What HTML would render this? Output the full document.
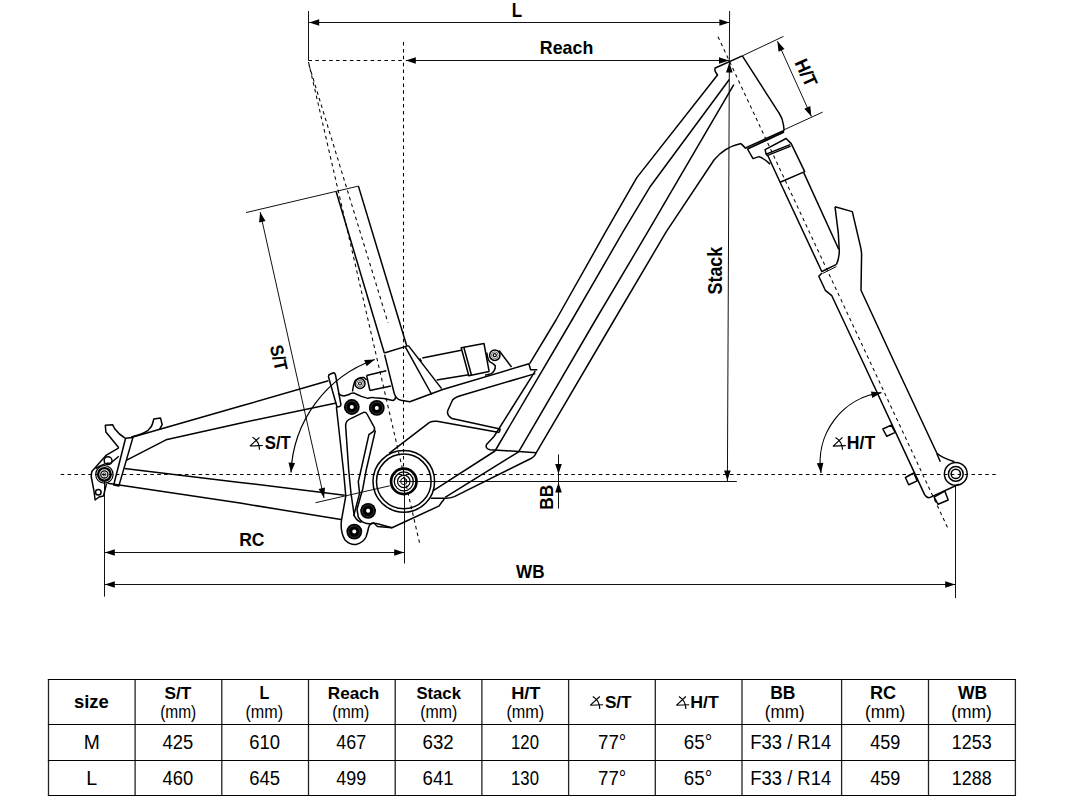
<!DOCTYPE html>
<html><head><meta charset="utf-8"><style>
html,body{margin:0;padding:0;background:#fff;width:1066px;height:798px;overflow:hidden}
svg{position:absolute;left:0;top:0}
text{font-family:"Liberation Sans",sans-serif;fill:#000}
.d{stroke:#111;stroke-width:1;fill:none}
.ds{stroke:#000;stroke-width:1.05;fill:none;stroke-dasharray:3.5 3.4}
.f{stroke:#000;stroke-width:1.5;fill:none;stroke-linejoin:round}
.t{stroke:#000;stroke-width:1.2;fill:none}
.d2{stroke:#000;stroke-width:0.8;fill:none}
</style></head><body>
<svg width="1066" height="798" viewBox="0 0 1066 798">
<line x1="308.5" y1="11" x2="308.5" y2="60.5" class="d"/>
<line x1="729.6" y1="11" x2="727.4" y2="481.5" class="d"/>
<line x1="309.2" y1="22.5" x2="729.4" y2="22.5" class="d"/><path d="M309.2,22.5 L319.2,19.2 L319.2,25.8 Z" fill="#000" stroke="none"/><path d="M729.4,22.5 L719.4,25.8 L719.4,19.2 Z" fill="#000" stroke="none"/>
<line x1="405.8" y1="60.5" x2="729" y2="60.5" class="d"/><path d="M405.8,60.5 L415.8,57.2 L415.8,63.8 Z" fill="#000" stroke="none"/><path d="M729.0,60.5 L719.0,63.8 L719.0,57.2 Z" fill="#000" stroke="none"/>
<line x1="308.5" y1="60.5" x2="403.5" y2="60.5" class="ds"/>
<text transform="translate(517.35,10.10) scale(0.865,1)" x="-6.41" y="6.80" font-size="19.71" font-weight="bold">L</text>
<text transform="translate(566.65,47.50) scale(0.983,1)" x="-27.26" y="6.52" font-size="18.11" font-weight="bold">Reach</text>
<path d="M729.4,62.6 L732.6,72.6 L726.0,72.6 Z" fill="#000" stroke="none"/>
<path d="M727.4,480.6 L724.1,470.6 L730.7,470.6 Z" fill="#000" stroke="none"/>
<text transform="translate(715.50,270.35) rotate(-90) scale(0.928,1)" x="-26.05" y="6.95" font-size="19.3" font-weight="bold">Stack</text>
<line x1="60.7" y1="474.5" x2="997" y2="474.5" class="ds"/>
<line x1="403.5" y1="42" x2="403.5" y2="478" class="ds"/>
<line x1="404.5" y1="481" x2="404.5" y2="563.5" class="d"/>
<line x1="104.5" y1="482" x2="104.5" y2="596.6" class="d"/>
<line x1="955.5" y1="485" x2="955.5" y2="598" class="d"/>
<line x1="104.8" y1="552.5" x2="404.2" y2="552.5" class="d"/><path d="M104.8,552.5 L114.8,549.2 L114.8,555.8 Z" fill="#000" stroke="none"/><path d="M404.2,552.5 L394.2,555.8 L394.2,549.2 Z" fill="#000" stroke="none"/>
<line x1="104.8" y1="584.5" x2="955.2" y2="584.5" class="d"/><path d="M104.8,584.5 L114.8,581.2 L114.8,587.8 Z" fill="#000" stroke="none"/><path d="M955.2,584.5 L945.2,587.8 L945.2,581.2 Z" fill="#000" stroke="none"/>
<text transform="translate(252.15,539.70) scale(0.943,1)" x="-13.76" y="6.41" font-size="18.59" font-weight="bold">RC</text>
<text transform="translate(529.95,571.45) scale(0.900,1)" x="-15.38" y="6.55" font-size="18.99" font-weight="bold">WB</text>
<line x1="404" y1="481.5" x2="736.8" y2="481.5" class="d"/>
<line x1="558.5" y1="454.4" x2="558.5" y2="508.6" class="d"/>
<path d="M558.5,473.9 L555.2,463.9 L561.8,463.9 Z" fill="#000" stroke="none"/>
<path d="M558.5,482.4 L561.8,492.4 L555.2,492.4 Z" fill="#000" stroke="none"/>
<text transform="translate(546.00,497.15) rotate(-90) scale(0.906,1)" x="-13.96" y="6.55" font-size="19" font-weight="bold">BB</text>
<line x1="783.6" y1="130" x2="822.7" y2="112.1" class="d"/>
<line x1="777.4" y1="41.2" x2="811.4" y2="116.5" class="d"/><path d="M777.4,41.2 L784.5,49.0 L778.5,51.7 Z" fill="#000" stroke="none"/><path d="M811.4,116.5 L804.3,108.7 L810.3,106.0 Z" fill="#000" stroke="none"/>
<text transform="translate(806.60,73.10) rotate(65.5) scale(0.946,1)" x="-15.70" y="6.77" font-size="18.8" font-weight="bold">H/T</text>
<line x1="246" y1="212.6" x2="358.4" y2="186.1" class="d"/>
<line x1="260.1" y1="212" x2="324" y2="498" class="d"/><path d="M260.1,212.0 L265.5,221.0 L259.1,222.5 Z" fill="#000" stroke="none"/><path d="M324.0,498.0 L318.6,489.0 L325.0,487.5 Z" fill="#000" stroke="none"/>
<line x1="315.5" y1="502.7" x2="389.8" y2="485.8" class="d"/>
<text transform="translate(279.20,357.80) rotate(77) scale(0.913,1)" x="-14.46" y="6.59" font-size="18.3" font-weight="bold">S/T</text>
<path d="M374.7,359.5 A125.36,125.36 0 0 0 291,472.6" stroke="#000" stroke-width="1.2" fill="none"/>
<path d="M374.7,359.5 L366.6,366.3 L364.2,360.1 Z" fill="#000" stroke="none"/>
<path d="M291.0,472.6 L288.5,462.4 L295.1,462.9 Z" fill="#000" stroke="none"/>
<text transform="translate(277.95,442.65) scale(0.948,1)" x="-13.98" y="6.37" font-size="17.7" font-weight="bold">S/T</text>
<path d="M249.9,446.2 L259.5,437.3 M249.9,446.0 L262.8,445.5 M252.5,437.3 Q259.4,441.3 259.5,449.7" stroke="#000" stroke-width="1.15" fill="none"/>
<path d="M881.4,392.7 A69.89,69.89 0 0 0 821,473" stroke="#000" stroke-width="1.2" fill="none"/>
<path d="M881.4,392.7 L872.2,397.9 L871.0,391.4 Z" fill="#000" stroke="none"/>
<path d="M821.0,473.0 L816.8,463.3 L823.4,462.8 Z" fill="#000" stroke="none"/>
<text transform="translate(861.50,442.75) scale(1.012,1)" x="-14.55" y="6.27" font-size="17.43" font-weight="bold">H/T</text>
<path d="M832.9,446.29999999999995 L842.5,437.4 M832.9,446.09999999999997 L845.8,445.59999999999997 M835.5,437.4 Q842.4,441.4 842.5,449.79999999999995" stroke="#000" stroke-width="1.15" fill="none"/>
<line x1="718" y1="36.7" x2="948" y2="528.5" class="ds"/>
<line x1="308.5" y1="62" x2="419.8" y2="544" class="ds"/>
<line x1="309" y1="65" x2="388" y2="322.9" class="ds"/>
<path d="M336.2,191.7 L384.3,353" class="f"/>
<path d="M358.4,186.1 L406.7,345.8" class="f"/>
<path d="M384.3,353 L408.4,345.6" class="f"/>
<path d="M384.6,354.6 L394.2,393.2 Q395.5,399 401,400.3 L409.8,401.7 L442.7,389.5 L528.9,363.8 L530.6,369.8 L537.3,369.8" class="f"/>
<path d="M405.4,347.1 L431.7,394.5" class="f"/>
<path d="M408.4,345.6 L441.6,388.6" class="f"/>
<path d="M422.3,357.9 L461.2,350.3" class="f"/>
<path d="M436.7,379.9 L468.8,374.8" class="f"/>
<path d="M419.5,358.5 L421.5,361.5" class="f"/>
<path d="M461.2,347.8 L484,343.5 L489.1,371.4 L468.8,375.7 Z" class="f"/>
<path d="M463.8,347.3 L471.5,375.2" class="f"/>
<circle cx="494.8" cy="355.2" r="5.2" stroke="#000" stroke-width="1.5" fill="none"/><circle cx="494.8" cy="355.2" r="3.4" stroke="#444" stroke-width="0.8" fill="none"/><circle cx="494.8" cy="355.2" r="2.1" fill="#000"/><circle cx="494.8" cy="355.2" r="0.9" fill="#fff"/>
<path d="M486.8,352.7 Q487.5,359 489.6,361.7 Q494,364 495.3,365.7 Q495.5,369 494.1,370.7 Q492.5,373 491.3,373.6 L485.1,375.3" class="f"/>
<path d="M499,350.5 L511.5,367" class="f"/>
<path d="M366.6,375.4 L386.3,370.8" class="f"/>
<path d="M369.9,390.5 L390.9,385.9" class="f"/>
<path d="M366.6,375.4 L369.9,390.5" class="f"/>
<circle cx="360" cy="383.5" r="5" stroke="#000" stroke-width="1.5" fill="none"/><circle cx="360" cy="383.5" r="3.3" stroke="#444" stroke-width="0.8" fill="none"/><circle cx="360" cy="383.5" r="2" fill="#000"/><circle cx="360" cy="383.5" r="0.9" fill="#fff"/>
<path d="M352.5,391.5 Q353.5,384 355,381 Q358,377 364,377.5 L366.6,380" class="f"/>
<path d="M338.3,393.2 Q340,395.5 344,396 L349,394.5 Q353,392 356,394 L361.3,396.4 L367.9,398.4 Q371,397 374.5,397.8 L383.7,398.4 L392.9,400.4 Q395.5,400 395.5,397" class="f"/>
<path d="M535.3,373.6 L462,395.2 Q455,397 452.6,400 L448,410 Q446,415 452,418.5 L500.1,429 L499.3,432.4" class="f"/>
<path d="M389.1,453.3 L429.5,422.3 Q432,421 437,421.3 L499.3,432.4" class="f"/>
<path d="M535.3,370.8 L494,436.5 L486.5,444.5 Q485,448.5 490,449.7 L536.3,452.7" class="f"/>
<path d="M714.7,68.3 L715.2,71.3 L717.5,75 L636.8,177.6 L605.5,232.2 L556,320 L529.7,363.6" class="f"/>
<path d="M729.3,79.5 L649.7,187.3 L622.8,232.2 L572,320 L495,451" class="f"/>
<path d="M733.8,84.6 L647.6,232.2 L595.5,320 L518.6,451.8" class="f"/>
<path d="M741,143.6 Q725,147 714,160 L666,232.2 L614.2,320 L536.3,452.7 Q535,456 532,458 L454.4,496.6 Q450,498.3 446,498.3 L430.8,498.3" class="f"/>
<path d="M433.3,490.7 L495,451" class="f"/>
<path d="M445.1,497.4 L518.6,451.8" class="f"/>
<path d="M444.3,499.1 Q441,503 439.2,505.9 L392,527.8 L377.5,523.8 L375,523.3 Q372,522.5 371,524" class="f"/>
<path d="M742.3,55.9 L783.5,36.4" class="d"/>
<path d="M714.7,68.3 L742.3,55.9" class="f"/>
<path d="M742.3,55.9 L778.9,112.8 Q782.5,118 783.5,125 L784.1,130.5" class="f"/>
<path d="M746,147.6 L784.1,130.5" class="f"/>
<path d="M747.5,149.1 L784.1,132" class="f"/>
<path d="M746.5,148.5 L784.1,131.2" class="d2"/>
<path d="M741,143.6 L746,148.6" class="f"/>
<path d="M747.5,149 L753,158.6 L759,156.6 Q765,159 770.1,164.1" class="f"/>
<path d="M765.1,149.6 L786.1,138.5 L791.2,143.6 L804.7,171.6 L780.1,182.2 L768,156 L766.1,154.1 Z" class="f"/>
<path d="M766.1,154.1 L790.2,144.6" class="f"/>
<path d="M767,155.6 L790.7,146.1" class="f"/>
<path d="M780.1,182.2 L822,272" class="f"/>
<path d="M803.5,172.1 L838.7,249.3" class="f"/>
<path d="M835,206.8 L852.3,211.6 L860.9,248.3 L861.6,253.6 L861,290.3 L894.3,362.2 L936.9,453.3 Q942,458 954.4,461.7" class="f"/>
<path d="M936.9,453.8 L940.3,461.7" class="f"/>
<path d="M835,206.8 L838.3,233.1 L839.3,251.5 Q839,259 836.5,264.4" class="f"/>
<path d="M836.5,264.4 L822,271.5" class="f"/>
<path d="M836.5,266.5 L822.5,273.5" class="d"/>
<path d="M822,273 L818.8,276.3 L825.3,290.3 L831.8,295.7 L863,362.2 L924.5,494.4 Q926.5,498 929.6,497.6 L958.9,484.3" class="f"/>
<path d="M882.8,429 L891.3,425.1 L895.2,432.4 L886.8,436.3 Z" class="f"/>
<path d="M905.4,477.5 L913.8,473 L917.2,480.9 L908.7,484.8 Z" class="f"/>
<path d="M934.1,497.2 L944.8,491 L948.2,500 L938.1,504.3 Z" class="f"/>
<circle cx="955.8" cy="473.9" r="11.4" class="f"/><circle cx="955.8" cy="473.9" r="7.4" class="f"/><circle cx="955.8" cy="473.9" r="4.6" class="f"/>
<circle cx="104.4" cy="474.4" r="8.7" stroke="#000" stroke-width="1.2" fill="none"/><circle cx="104.4" cy="474.4" r="6.3" stroke="#000" stroke-width="2.4" fill="none"/><circle cx="104.4" cy="474.4" r="3.6" stroke="#000" stroke-width="1.3" fill="none"/><circle cx="104.4" cy="474.4" r="1.6" stroke="#000" stroke-width="0.8" fill="none"/>
<path d="M125.6,438.2 L132.9,437.6 L118.8,486.1 L113.7,485 Z" class="f"/>
<path d="M132.9,437 L240,406.3 L328.4,380.7" class="f"/>
<path d="M126.7,460.2 L166,439.8 L240,423.2 L336.3,403" class="f"/>
<path d="M124.5,468.6 L240,482.4 L344.7,495.2" class="f"/>
<path d="M107.5,483.3 L240,503.1 L341,519.5" class="f"/>
<path d="M125,438.2 Q119,434.5 114.5,428.5 L112.6,424.7 L105.3,425.2 L105.9,432 L118.8,447.8" class="f"/>
<path d="M131.2,437 Q143,434 148.1,430.3 Q152,427 152.6,423.5 L153.8,419 L160.5,417.9 L162.2,424.7 L159.4,429.7" class="f"/>
<path d="M118.8,447.8 L106.4,455.1 L91.8,471.4 L91.2,476.5 L94,491.2 L95.1,500 L99,497 L103.5,496 L106.5,483.5" class="f"/>
<path d="M95.5,468.6 Q104,463 110.9,463 L118.8,456.2" class="f"/>
<circle cx="108.1" cy="460.7" r="3.9" class="f"/><circle cx="98.3" cy="492.3" r="2.8" class="f"/>
<path d="M328.4,376.5 Q328.5,374.5 330.5,374 L333.7,372.8 Q335,373 335.5,375 L340.9,404.5 Q341,406 339.5,406.5 L337,407 L328.4,376.5" class="f"/>
<path d="M336.4,407 L343.4,470 L345.8,496 L341.5,520 Q340,532 345,540 Q350,545 356,544.4 Q363,543 366,537 Q368,531 368.7,527 Q370.5,523 374,523.3 L377.5,526.5 L392,527.8" class="f"/>
<path d="M348.7,470 L345.6,425.4 Q346,420 351.3,418.4 L363.6,412.3 Q366,412 367,414 L373.2,425.4 Q376,429 373.2,431.6 L368.9,434.6 L361,470 L358.3,481.6 L359.6,493.4 L353.7,515.8" class="f"/>
<path d="M348.7,470 L351,493.4 L354.3,515.8 Q357,521 361.6,522.4" class="f"/>
<path d="M375.4,430.3 L366.2,470 L362.9,488.2 L357,509.2 L358.3,517.1 Q362,524 371,524" class="f"/>
<circle cx="351.8" cy="407" r="7.9" fill="#000"/><circle cx="351.8" cy="407" r="5.8" stroke="#555" stroke-width="0.6" fill="none"/><circle cx="351.8" cy="407" r="2" fill="#fff"/>
<circle cx="376.8" cy="407.9" r="7.9" fill="#000"/><circle cx="376.8" cy="407.9" r="5.8" stroke="#555" stroke-width="0.6" fill="none"/><circle cx="376.8" cy="407.9" r="2" fill="#fff"/>
<circle cx="368.1" cy="510.8" r="7.9" fill="#000"/><circle cx="368.1" cy="510.8" r="5.8" stroke="#555" stroke-width="0.6" fill="none"/><circle cx="368.1" cy="510.8" r="2" fill="#fff"/>
<circle cx="354.3" cy="531.6" r="7.9" fill="#000"/><circle cx="354.3" cy="531.6" r="5.8" stroke="#555" stroke-width="0.6" fill="none"/><circle cx="354.3" cy="531.6" r="2" fill="#fff"/>
<circle cx="403.8" cy="481.4" r="30.8" class="f"/><circle cx="403.8" cy="481.4" r="27.3" class="f"/><circle cx="403.8" cy="481.4" r="12.7" stroke="#000" stroke-width="2.7" fill="none"/><circle cx="403.8" cy="481.4" r="9.5" stroke="#000" stroke-width="1.3" fill="none"/><circle cx="403.8" cy="481.4" r="6.2" stroke="#000" stroke-width="1.2" fill="none"/><circle cx="403.8" cy="481.4" r="3.2" stroke="#000" stroke-width="1" fill="none"/><path d="M399,481.5 H409 M404.5,476.5 V486.5" stroke="#000" stroke-width="0.9"/>
<line x1="48.5" y1="679.0" x2="48.5" y2="796.0" stroke="#222" stroke-width="1.3"/>
<line x1="135.1" y1="679.0" x2="135.1" y2="796.0" stroke="#222" stroke-width="1.3"/>
<line x1="221.8" y1="679.0" x2="221.8" y2="796.0" stroke="#222" stroke-width="1.3"/>
<line x1="308.5" y1="679.0" x2="308.5" y2="796.0" stroke="#222" stroke-width="1.3"/>
<line x1="395.2" y1="679.0" x2="395.2" y2="796.0" stroke="#222" stroke-width="1.3"/>
<line x1="481.9" y1="679.0" x2="481.9" y2="796.0" stroke="#222" stroke-width="1.3"/>
<line x1="568.6" y1="679.0" x2="568.6" y2="796.0" stroke="#222" stroke-width="1.3"/>
<line x1="655.3" y1="679.0" x2="655.3" y2="796.0" stroke="#222" stroke-width="1.3"/>
<line x1="742.0" y1="679.0" x2="742.0" y2="796.0" stroke="#222" stroke-width="1.3"/>
<line x1="841.6" y1="679.0" x2="841.6" y2="796.0" stroke="#222" stroke-width="1.3"/>
<line x1="928.5" y1="679.0" x2="928.5" y2="796.0" stroke="#222" stroke-width="1.3"/>
<line x1="1015.4" y1="679.0" x2="1015.4" y2="796.0" stroke="#222" stroke-width="1.3"/>
<line x1="47.9" y1="679.5" x2="1016.0" y2="679.5" stroke="#000" stroke-width="1"/>
<line x1="47.9" y1="724.5" x2="1016.0" y2="724.5" stroke="#000" stroke-width="1"/>
<line x1="47.9" y1="760.5" x2="1016.0" y2="760.5" stroke="#000" stroke-width="1"/>
<line x1="47.9" y1="795.5" x2="1016.0" y2="795.5" stroke="#000" stroke-width="1"/>
<text transform="translate(91.50,701.65) scale(0.983,1)" x="-17.84" y="6.76" font-size="18.78" font-weight="bold">size</text>
<text transform="translate(178.20,692.65) scale(1.021,1)" x="-13.34" y="6.08" font-size="16.89" font-weight="bold">S/T</text>
<text transform="translate(264.60,692.65) scale(0.887,1)" x="-5.89" y="6.25" font-size="18.12" font-weight="bold">L</text>
<text transform="translate(353.60,692.65) scale(1.015,1)" x="-25.42" y="6.08" font-size="16.89" font-weight="bold">Reach</text>
<text transform="translate(438.95,692.65) scale(0.989,1)" x="-22.80" y="6.08" font-size="16.89" font-weight="bold">Stack</text>
<text transform="translate(526.35,692.65) scale(1.080,1)" x="-14.10" y="6.08" font-size="16.89" font-weight="bold">H/T</text>
<text transform="translate(783.10,692.65) scale(0.963,1)" x="-13.32" y="6.25" font-size="18.12" font-weight="bold">BB</text>
<text transform="translate(883.40,692.65) scale(1.026,1)" x="-13.03" y="6.08" font-size="17.61" font-weight="bold">RC</text>
<text transform="translate(972.20,692.65) scale(0.967,1)" x="-14.68" y="6.25" font-size="18.12" font-weight="bold">WB</text>
<text transform="translate(178.20,713.50) scale(0.887,1)" x="-20.33" y="4.54" font-size="17.45" font-weight="normal">(mm)</text>
<text transform="translate(264.25,713.50) scale(0.926,1)" x="-20.33" y="4.54" font-size="17.45" font-weight="normal">(mm)</text>
<text transform="translate(350.80,713.50) scale(0.913,1)" x="-20.33" y="4.54" font-size="17.45" font-weight="normal">(mm)</text>
<text transform="translate(438.70,713.50) scale(0.913,1)" x="-20.33" y="4.54" font-size="17.45" font-weight="normal">(mm)</text>
<text transform="translate(525.35,713.50) scale(0.931,1)" x="-20.33" y="4.54" font-size="17.45" font-weight="normal">(mm)</text>
<text transform="translate(784.65,713.50) scale(0.978,1)" x="-20.33" y="4.54" font-size="17.45" font-weight="normal">(mm)</text>
<text transform="translate(885.15,713.50) scale(0.988,1)" x="-20.33" y="4.54" font-size="17.45" font-weight="normal">(mm)</text>
<text transform="translate(971.55,713.50)" x="-20.33" y="4.54" font-size="17.45" font-weight="normal">(mm)</text>
<text transform="translate(618.45,702.45) scale(1.033,1)" x="-13.13" y="5.98" font-size="16.62" font-weight="bold">S/T</text>
<path d="M590.2,705.4 L599.8000000000001,696.5 M590.2,705.2 L603.1,704.7 M592.8000000000001,696.5 Q599.7,700.5 599.8000000000001,708.9" stroke="#000" stroke-width="1.15" fill="none"/>
<text transform="translate(705.05,702.45) scale(1.066,1)" x="-13.88" y="5.98" font-size="16.62" font-weight="bold">H/T</text>
<path d="M676.3,705.4 L685.9,696.5 M676.3,705.2 L689.1999999999999,704.7 M678.9,696.5 Q685.8,700.5 685.9,708.9" stroke="#000" stroke-width="1.15" fill="none"/>
<text transform="translate(91.65,741.84) scale(0.982,1)" x="-8.13" y="6.76" font-size="19.6" font-weight="normal">M</text>
<text transform="translate(92.00,778.24)" x="-5.88" y="6.76" font-size="19.6" font-weight="normal">L</text>
<text transform="translate(177.70,741.84) scale(0.938,1)" x="-16.17" y="6.76" font-size="19.6" font-weight="normal">425</text>
<text transform="translate(177.70,778.24) scale(0.938,1)" x="-16.17" y="6.76" font-size="19.6" font-weight="normal">460</text>
<text transform="translate(264.80,741.84) scale(0.943,1)" x="-16.46" y="6.76" font-size="19.6" font-weight="normal">610</text>
<text transform="translate(264.80,778.24) scale(0.943,1)" x="-16.46" y="6.76" font-size="19.6" font-weight="normal">645</text>
<text transform="translate(351.00,741.84) scale(0.912,1)" x="-16.07" y="6.76" font-size="19.6" font-weight="normal">467</text>
<text transform="translate(351.00,778.24) scale(0.912,1)" x="-16.07" y="6.76" font-size="19.6" font-weight="normal">499</text>
<text transform="translate(438.15,741.84) scale(0.952,1)" x="-16.37" y="6.76" font-size="19.6" font-weight="normal">632</text>
<text transform="translate(438.15,778.24) scale(0.952,1)" x="-16.37" y="6.76" font-size="19.6" font-weight="normal">641</text>
<text transform="translate(525.35,741.84) scale(0.853,1)" x="-16.76" y="6.76" font-size="19.6" font-weight="normal">120</text>
<text transform="translate(525.35,778.24) scale(0.853,1)" x="-16.76" y="6.76" font-size="19.6" font-weight="normal">130</text>
<text transform="translate(612.05,741.64) scale(0.951,1)" x="-14.70" y="6.96" font-size="19.6" font-weight="normal">77°</text>
<text transform="translate(612.05,778.04) scale(0.951,1)" x="-14.70" y="6.96" font-size="19.6" font-weight="normal">77°</text>
<text transform="translate(697.85,741.84) scale(0.958,1)" x="-14.70" y="6.76" font-size="19.6" font-weight="normal">65°</text>
<text transform="translate(697.85,778.24) scale(0.958,1)" x="-14.70" y="6.76" font-size="19.6" font-weight="normal">65°</text>
<text transform="translate(791.20,741.54) scale(0.939,1)" x="-43.51" y="7.06" font-size="19.6" font-weight="normal">F33 / R14</text>
<text transform="translate(791.20,777.94) scale(0.939,1)" x="-43.51" y="7.06" font-size="19.6" font-weight="normal">F33 / R14</text>
<text transform="translate(884.95,741.84) scale(0.922,1)" x="-16.07" y="6.76" font-size="19.6" font-weight="normal">459</text>
<text transform="translate(884.95,778.24) scale(0.922,1)" x="-16.07" y="6.76" font-size="19.6" font-weight="normal">459</text>
<text transform="translate(972.10,741.84) scale(0.914,1)" x="-22.15" y="6.76" font-size="19.6" font-weight="normal">1253</text>
<text transform="translate(972.10,778.24) scale(0.914,1)" x="-22.15" y="6.76" font-size="19.6" font-weight="normal">1288</text>
</svg>
</body></html>
